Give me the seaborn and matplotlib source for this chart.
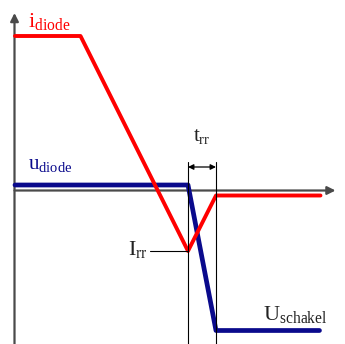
import seaborn as sns
import matplotlib.pyplot as plt
import pandas as pd

# time axis and signal values (arbitrary units, 0 = axes origin)
t_diode_current = [0.5, 66, 173.5, 201.5, 306]
i_diode = [154.5, 154.5, -60.5, -5, -5]

t_diode_voltage = [0.5, 173.5, 201.5, 305]
u_diode = [5.5, 5.5, -140, -140]

t_rr_start, t_rr_end = 173.5, 201.5
i_rr = -60.5

red = '#ff0000'
navy = '#0a0a8c'
axis_grey = '#4a4a4a'

sns.set_theme(style='white')
plt.rcParams['mathtext.fontset'] = 'custom'
plt.rcParams['mathtext.rm'] = 'Liberation Serif'
plt.rcParams['mathtext.it'] = 'Liberation Serif'
plt.rcParams['font.family'] = ['Liberation Serif', 'DejaVu Serif']

fig = plt.figure(figsize=(3.45, 3.44), dpi=100)
ax = fig.add_axes([0, 0, 1, 1])
ax.set_xlim(-14.5, 330.5)
ax.set_ylim(-153.5, 190.5)
ax.axis('off')

df_i = pd.DataFrame({'t': t_diode_current, 'v': i_diode})
df_u = pd.DataFrame({'t': t_diode_voltage, 'v': u_diode})

# axes with arrows
ax.annotate('', xy=(0, 177.5), xytext=(0, -153.5),
            arrowprops=dict(arrowstyle='-|>', mutation_scale=12, lw=1.6, color=axis_grey, shrinkA=0, shrinkB=0))
ax.annotate('', xy=(321, 0), xytext=(0, 0),
            arrowprops=dict(arrowstyle='-|>', mutation_scale=12, lw=1.6, color=axis_grey, shrinkA=0, shrinkB=0))

sns.lineplot(data=df_u, x='t', y='v', sort=False, estimator=None, color=navy, lw=3.4, ax=ax, zorder=3)
sns.lineplot(data=df_i, x='t', y='v', sort=False, estimator=None, color=red, lw=2.8, ax=ax, zorder=4)

# t_rr markers
for tx in (t_rr_start, t_rr_end):
    ax.plot([tx, tx], [28.5, -153.5], color='black', lw=0.8, zorder=5)
ax.annotate('', xy=(t_rr_end, 23.5), xytext=(t_rr_start, 23.5),
            arrowprops=dict(arrowstyle='<|-|>', mutation_scale=8, lw=0.9, color='black', shrinkA=0, shrinkB=0))
ax.plot([135.5, t_rr_start], [i_rr, i_rr], color='black', lw=0.8, zorder=5)

# labels
ax.text(13.5, 164, r'$\mathrm{i}_{\mathrm{diode}}$', color=red, fontsize=16, va='baseline')
ax.text(13.5, 21, r'$\mathrm{u}_{\mathrm{diode}}$', color=navy, fontsize=15, va='baseline')
ax.text(187.5, 50, r'$\mathrm{t}_{\mathrm{rr}}$', color='#222222', fontsize=15, ha='center', va='baseline')
ax.text(133.5, -64.5, r'$\mathrm{I}_{\mathrm{rr}}$', color='#222222', fontsize=16, ha='right', va='baseline')
ax.text(248.5, -129.5, r'$\mathrm{U}_{\mathrm{schakel}}$', color='#222222', fontsize=16, va='baseline')

fig.savefig('out.png', dpi=100)
